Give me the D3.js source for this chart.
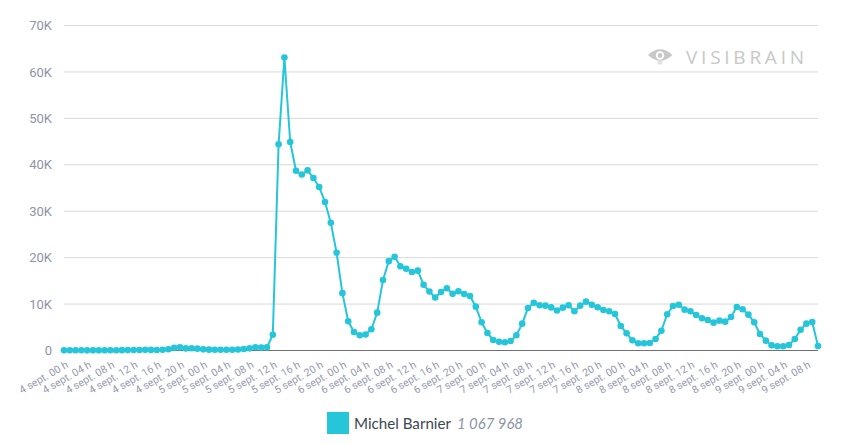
<!DOCTYPE html>
<html>
<head>
<meta charset="utf-8">
<script src="https://cdn.jsdelivr.net/npm/d3@7/dist/d3.min.js"></script>
<style>
  html, body { margin: 0; padding: 0; background: #ffffff; }
  svg { display: block; }
</style>
</head>
<body>
<svg id="chart" width="850" height="444"></svg>
<script>
// ---- DATA ----
const days = ["4 sept.", "5 sept.", "6 sept.", "7 sept.", "8 sept.", "9 sept."];
const hours = ["00","01","02","03","04","05","06","07","08","09","10","11","12","13","14","15","16","17","18","19","20","21","22","23"];
const seriesName = "Michel Barnier";
const seriesTotal = "1 067 968";
const yTicks = [0, 10000, 20000, 30000, 40000, 50000, 60000, 70000];
const yTickLabels = ["0", "10K", "20K", "30K", "40K", "50K", "60K", "70K"];
const values = [
  60, 50, 40, 40, 30, 30, 30, 40, 50, 60, 80, 90, 110, 120, 140, 130,
  120, 150, 280, 600, 680, 450, 480, 400, 250, 180, 150, 150, 160, 160, 220, 320,
  460, 700, 620, 700, 3400, 44400, 63100, 44900, 38700, 37900, 38800, 37150, 35200, 32000, 27500, 21050,
  12350, 6300, 3990, 3270, 3450, 4570, 8150, 15200, 19250, 20200, 18150, 17600, 16900, 17200, 14150, 12700,
  11400, 12600, 13400, 12200, 12750, 12180, 11750, 9440, 6080, 3770, 2260, 1900, 1770, 2050, 3270, 5780,
  9160, 10300, 9740, 9660, 9280, 8620, 9230, 9740, 8450, 9660, 10520, 9870, 9310, 8730, 8450, 7870,
  5280, 3710, 2200, 1550, 1550, 1620, 2480, 4270, 7800, 9590, 9870, 8800, 8450, 7650, 6940, 6570,
  6000, 6430, 6210, 7220, 9380, 8870, 7720, 6080, 3560, 2120, 1120, 900, 900, 1190, 2480, 4480,
  5780, 6140, 970
];

// categories: one per hour
const categories = [];
days.forEach(d => hours.forEach(h => categories.push(d + " " + h + " h")));
categories.length = values.length;

const lineColor = "#26c6da";

// ---- CHART ----
const svg = d3.select("#chart");

const x = d3.scalePoint().domain(categories).range([64, 818]);
const y = d3.scaleLinear().domain([0, 70000]).range([350.5, 25.5]);

// gridlines
svg.append("g")
  .selectAll("line")
  .data(yTicks.filter(t => t > 0))
  .join("line")
  .attr("x1", 64).attr("x2", 818)
  .attr("y1", d => y(d)).attr("y2", d => y(d))
  .attr("stroke", "#d9d9d9")
  .attr("stroke-width", 1);

// y axis labels
const yAxis = d3.axisLeft(y).tickValues(yTicks)
  .tickFormat((d, i) => yTickLabels[i]).tickSize(0).tickPadding(0);
const gy = svg.append("g").attr("transform", "translate(52,0)").call(yAxis);
gy.select(".domain").remove();
gy.selectAll("text")
  .attr("font-family", "Roboto, sans-serif")
  .attr("font-size", 13)
  .attr("fill", "#8e93a8");

// baseline
svg.append("line")
  .attr("x1", 64).attr("x2", 818)
  .attr("y1", y(0)).attr("y2", y(0))
  .attr("stroke", "#707070").attr("stroke-width", 1.2);

// x axis labels (every 4 hours)
const tickCats = categories.filter(c => /(00|04|08|12|16|20) h$/.test(c));
const xAxis = d3.axisBottom(x).tickValues(tickCats).tickSize(0).tickPadding(0);
const gx = svg.append("g").attr("transform", "translate(0," + y(0) + ")").call(xAxis);
gx.select(".domain").remove();
gx.selectAll(".tick text")
  .attr("font-family", "Roboto, sans-serif")
  .attr("font-size", 10.5)
  .attr("fill", "#9599ae")
  .attr("text-anchor", "end")
  .attr("dy", null)
  .attr("y", null)
  .attr("transform", "translate(3,14) rotate(-30)")
  .attr("dominant-baseline", "middle");

// watermark
const wm = svg.append("g").attr("fill", "#c8c8c8");
wm.append("path")
  .attr("d", "M648,55 Q660,43.5 672.5,55 Q660,66.5 648,55 Z");
wm.append("circle").attr("cx", 660).attr("cy", 55.5).attr("r", 4.2).attr("fill", "#ffffff");
wm.append("circle").attr("cx", 660).attr("cy", 55.5).attr("r", 2.4).attr("fill", "#c8c8c8");
wm.append("rect").attr("x", 657.5).attr("y", 61).attr("width", 5).attr("height", 3.5).attr("rx", 1.2).attr("fill", "#e2e2e2");
wm.append("text")
  .attr("x", 686).attr("y", 64)
  .attr("font-family", "'Open Sans', 'DejaVu Sans', sans-serif")
  .attr("font-size", 19)
  .attr("textLength", 118)
  .attr("lengthAdjust", "spacing")
  .text("VISIBRAIN");

// line
const line = d3.line()
  .x((d, i) => x(categories[i]))
  .y(d => y(d));
svg.append("path")
  .datum(values)
  .attr("fill", "none")
  .attr("stroke", lineColor)
  .attr("stroke-width", 2)
  .attr("stroke-linejoin", "round")
  .attr("d", line);

svg.append("g")
  .selectAll("circle")
  .data(values)
  .join("circle")
  .attr("cx", (d, i) => x(categories[i]))
  .attr("cy", d => y(d))
  .attr("r", 3.3)
  .attr("fill", lineColor);

// legend
const lg = svg.append("g");
lg.append("rect")
  .attr("x", 327).attr("y", 412).attr("width", 22).attr("height", 22)
  .attr("fill", lineColor);
lg.append("text")
  .attr("x", 354).attr("y", 429)
  .attr("font-family", "Lato, sans-serif")
  .attr("font-size", 16)
  .attr("fill", "#3d4652")
  .attr("textLength", 97)
  .attr("lengthAdjust", "spacingAndGlyphs")
  .text(seriesName);
lg.append("text")
  .attr("x", 457).attr("y", 429)
  .attr("font-family", "Lato, sans-serif")
  .attr("font-size", 16)
  .attr("font-style", "italic")
  .attr("fill", "#8e93a8")
  .attr("textLength", 66)
  .attr("lengthAdjust", "spacingAndGlyphs")
  .text(seriesTotal);
</script>
</body>
</html>
